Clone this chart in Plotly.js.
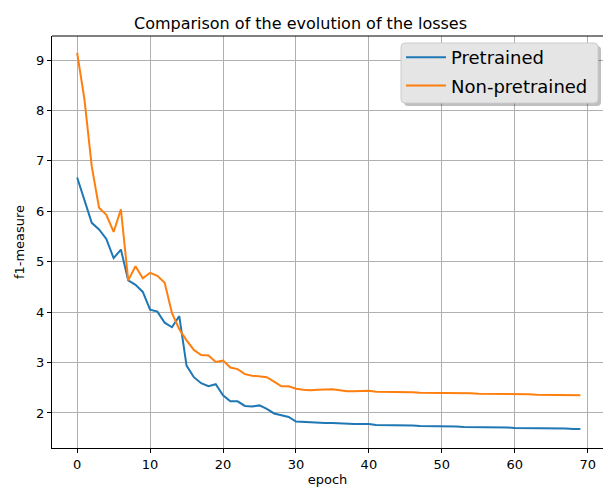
<!DOCTYPE html>
<html>
<head>
<meta charset="utf-8">
<script src="https://cdn.plot.ly/plotly-3.0.1.min.js"></script>
<style>html,body{margin:0;padding:0;background:#fff;}#chart{width:603px;height:498px;}</style>
</head>
<body>
<div id="chart"></div>
<script>
var epochs = [];
for (var i = 0; i < 70; i++) epochs.push(i);

var pretrained = [
  6.67, 6.22, 5.77, 5.64, 5.45, 5.07, 5.24, 4.63, 4.54, 4.40,
  4.05, 4.01, 3.79, 3.70, 3.92, 2.94, 2.71, 2.59, 2.53, 2.57,
  2.35, 2.23, 2.23, 2.14, 2.13, 2.15, 2.08, 1.99, 1.96, 1.92,
  1.83, 1.82, 1.82, 1.80, 1.80, 1.80, 1.79, 1.79, 1.78, 1.78,
  1.78, 1.76, 1.76, 1.76, 1.75, 1.75, 1.75, 1.74, 1.74, 1.74,
  1.73, 1.73, 1.73, 1.72, 1.72, 1.72, 1.72, 1.71, 1.71, 1.71,
  1.70, 1.70, 1.70, 1.70, 1.69, 1.69, 1.69, 1.69, 1.68, 1.68
];

var nonPretrained = [
  9.14, 8.22, 6.89, 6.07, 5.93, 5.59, 6.04, 4.63, 4.91, 4.67,
  4.78, 4.72, 4.58, 3.98, 3.66, 3.44, 3.25, 3.15, 3.14, 3.01,
  3.04, 2.90, 2.87, 2.77, 2.74, 2.73, 2.71, 2.62, 2.53, 2.53,
  2.48, 2.46, 2.45, 2.46, 2.46, 2.47, 2.45, 2.43, 2.43, 2.44,
  2.44, 2.42, 2.42, 2.42, 2.41, 2.41, 2.41, 2.40, 2.40, 2.40,
  2.40, 2.39, 2.39, 2.39, 2.39, 2.38, 2.38, 2.38, 2.38, 2.37,
  2.37, 2.37, 2.37, 2.36, 2.36, 2.36, 2.36, 2.35, 2.35, 2.35
];

var xTicks = [0, 10, 20, 30, 40, 50, 60, 70];
var yTicks = [2, 3, 4, 5, 6, 7, 8, 9];

var traces = [
  {x: epochs, y: pretrained, name: 'Pretrained', type: 'scatter', mode: 'lines',
   legendgroup: 'a', line: {color: '#1f77b4', width: 2}},
  {x: epochs, y: nonPretrained, name: 'Non-pretrained', type: 'scatter', mode: 'lines',
   legendgroup: 'b', line: {color: '#ff7f0e', width: 2}}
];

// plot area geometry (pixels)
var W = 603, H = 498, ML = 52, MR = 0, MT = 36, MB = 50;
var PW = W - ML - MR, PH = H - MT - MB;
function px(x) { return (x - ML) / PW; }
function py(y) { return (MT + PH - y) / PH; }
function roundRect(x0, y0, x1, y1, r) {
  var rx = r / PW, ry = r / PH;
  var a = px(x0), b = px(x1), t = py(y0), u = py(y1);
  return 'M' + (a + rx) + ',' + t +
    ' L' + (b - rx) + ',' + t +
    ' Q' + b + ',' + t + ' ' + b + ',' + (t - ry) +
    ' L' + b + ',' + (u + ry) +
    ' Q' + b + ',' + u + ' ' + (b - rx) + ',' + u +
    ' L' + (a + rx) + ',' + u +
    ' Q' + a + ',' + u + ' ' + a + ',' + (u + ry) +
    ' L' + a + ',' + (t - ry) +
    ' Q' + a + ',' + t + ' ' + (a + rx) + ',' + t + ' Z';
}

var font = 'DejaVu Sans, sans-serif';
var layout = {
  width: W, height: H,
  margin: {l: ML, r: MR, t: MT, b: MB},
  paper_bgcolor: '#fff', plot_bgcolor: '#fff',
  font: {family: font, color: '#000', size: 13},
  title: {text: 'Comparison of the evolution of the losses', font: {size: 16, family: font, color: '#000'},
          x: px(300.5), xref: 'paper', xanchor: 'center', y: 1, yref: 'paper', yanchor: 'bottom', pad: {b: 7}},
  xaxis: {
    range: [-3.45, 72.1], tickvals: xTicks, ticktext: xTicks.map(String),
    showgrid: true, gridcolor: '#b0b0b0', gridwidth: 1,
    zeroline: false, showline: true, linecolor: '#000', linewidth: 1,
    ticks: 'outside', ticklen: 4, tickcolor: '#000', tickwidth: 1,
    tickfont: {size: 13, family: font},
    title: {text: 'epoch', font: {size: 13, family: font}, standoff: 4}
  },
  yaxis: {
    range: [1.305, 9.476], tickvals: yTicks, ticktext: yTicks.map(String),
    showgrid: true, gridcolor: '#b0b0b0', gridwidth: 1,
    zeroline: false, showline: true, linecolor: '#000', linewidth: 1,
    ticks: 'outside', ticklen: 4, tickcolor: '#000', tickwidth: 1,
    tickfont: {size: 13, family: font},
    title: {text: 'f1-measure', font: {size: 13, family: font}, standoff: 8}
  },
  showlegend: true,
  legend: {
    x: px(401), xanchor: 'left', y: py(39), yanchor: 'top',
    bgcolor: 'rgba(0,0,0,0)', borderwidth: 0,
    traceorder: 'grouped', tracegroupgap: 2, itemwidth: 40,
    font: {size: 18, family: font, color: '#000'}
  },
  shapes: [
    {type: 'line', xref: 'paper', yref: 'paper', x0: 0, x1: 1, y0: 1, y1: 1,
     line: {color: '#000', width: 1}},
    {type: 'path', xref: 'paper', yref: 'paper', layer: 'above',
     path: roundRect(404, 46, 601, 106, 4),
     fillcolor: 'rgba(0,0,0,0.25)', line: {width: 0}},
    {type: 'path', xref: 'paper', yref: 'paper', layer: 'above',
     path: roundRect(401, 43, 598, 103, 4),
     fillcolor: 'rgb(229,229,229)', line: {color: '#cccccc', width: 1}}
  ]
};

Plotly.newPlot('chart', traces, layout, {displayModeBar: false, staticPlot: true});
</script>
</body>
</html>
